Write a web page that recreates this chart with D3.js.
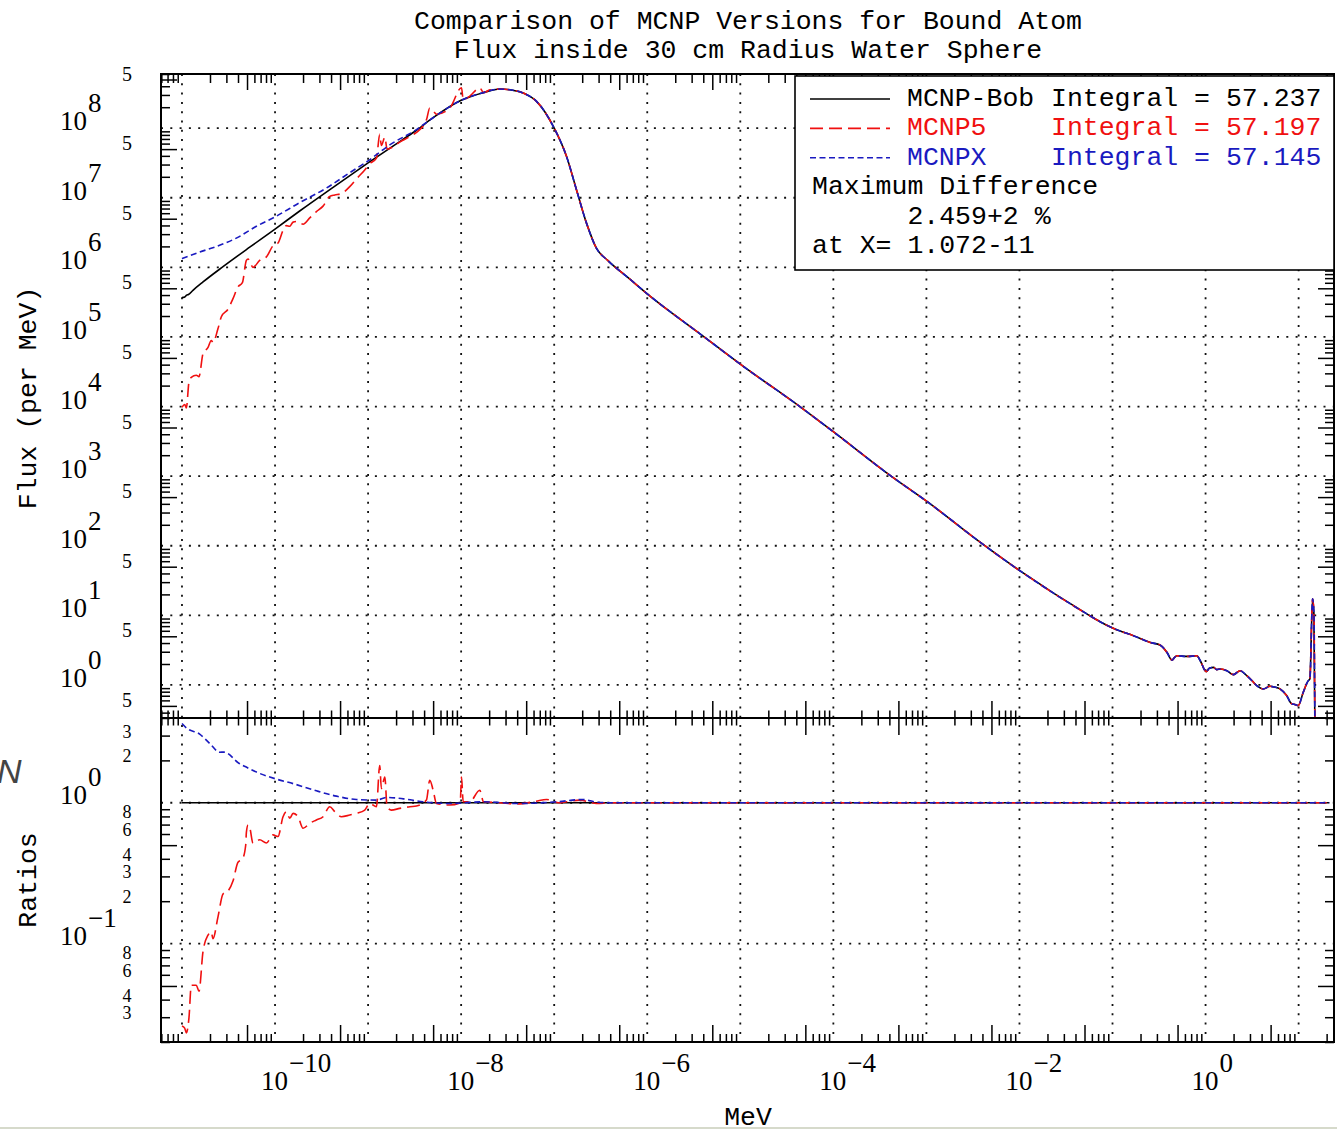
<!DOCTYPE html>
<html>
<head>
<meta charset="utf-8">
<title>Comparison of MCNP Versions for Bound Atom</title>
<script src="https://d3js.org/d3.v7.min.js"></script>
<style>
  body { margin: 0; background: #fff; }
  svg { display: block; }
  .mono { font-family: "Liberation Mono", "DejaVu Sans Mono", monospace; font-size: 26.5px; }
  .num { font-family: "Liberation Serif", "DejaVu Serif", serif; }
</style>
</head>
<body>
<script>

//Data, pairs are [log10(E in MeV), log10(value)]
var bobHead = [
    [-11.00, 5.566], [-10.97, 5.575], [-10.95, 5.60], [-10.93, 5.61], [-10.882, 5.67],
    [-10.774, 5.79], [-10.559, 6.01], [-10.272, 6.29], [-10.0, 6.55], [-9.735, 6.81],
    [-9.376, 7.15], [-9.0, 7.50], [-8.624, 7.84], [-8.48, 7.97], [-8.301, 8.15],
    [-8.0, 8.40], [-7.763, 8.51]
];

var blueHead = [
    [-11.00, 6.125], [-10.81, 6.22], [-10.63, 6.30], [-10.416, 6.42], [-10.2, 6.59],
    [-10.0, 6.725], [-9.735, 6.93], [-9.448, 7.14], [-9.197, 7.36], [-9.0, 7.53],
    [-8.767, 7.76], [-8.48, 7.98], [-8.301, 8.15], [-8.0, 8.40], [-7.763, 8.51]
];

var redHead = [
    [-11.00, 3.99], [-10.97, 4.03], [-10.953, 3.98], [-10.925, 4.35], [-10.9, 4.42],
    [-10.846, 4.45], [-10.817, 4.43], [-10.774, 4.76], [-10.72, 4.85], [-10.685, 4.95],
    [-10.667, 4.92], [-10.613, 5.12], [-10.577, 5.29], [-10.505, 5.40], [-10.452, 5.55],
    [-10.398, 5.72], [-10.351, 5.78], [-10.308, 6.10], [-10.29, 6.12], [-10.27, 6.08],
    [-10.237, 6.00], [-10.165, 6.10], [-10.093, 6.15], [-10.022, 6.31], [-9.968, 6.35],
    [-9.914, 6.53], [-9.878, 6.60], [-9.842, 6.59], [-9.806, 6.65], [-9.753, 6.66],
    [-9.699, 6.62], [-9.627, 6.71], [-9.556, 6.80], [-9.484, 6.88], [-9.412, 7.02],
    [-9.358, 7.04], [-9.287, 7.06], [-9.197, 7.16], [-9.125, 7.27], [-9.036, 7.40],
    [-8.982, 7.49], [-8.91, 7.57], [-8.875, 7.91], [-8.857, 7.75], [-8.82, 7.87],
    [-8.796, 7.70], [-8.75, 7.72], [-8.66, 7.80], [-8.55, 7.88], [-8.48, 7.94],
    [-8.373, 8.12], [-8.337, 8.29], [-8.301, 8.25], [-8.265, 8.20], [-8.122, 8.29],
    [-7.996, 8.58], [-7.978, 8.41], [-7.907, 8.46], [-7.8, 8.58], [-7.76, 8.51],
    [-7.69, 8.55]
];

//All three codes agree above the thermal peak
var commonTail = [
    [-7.584, 8.562], [-7.477, 8.552], [-7.333, 8.504], [-7.19, 8.384], [-7.0, 8.0],
    [-6.867, 7.592], [-6.76, 7.112], [-6.652, 6.632], [-6.545, 6.272], [-6.425, 6.10],
    [-6.186, 5.83], [-6.0, 5.62], [-5.396, 5.008], [-4.993, 4.602], [-4.367, 4.006],
    [-3.987, 3.624], [-3.383, 3.004], [-2.980, 2.622], [-2.398, 2.026], [-1.973, 1.620],
    [-1.280, 1.024], [-1.129, 0.905], [-0.986, 0.81], [-0.771, 0.705], [-0.593, 0.61],
    [-0.486, 0.571], [-0.414, 0.467], [-0.361, 0.357], [-0.33, 0.40], [-0.307, 0.419],
    [-0.2, 0.41], [-0.093, 0.419], [-0.057, 0.348], [0.007, 0.19], [0.04, 0.24],
    [0.086, 0.252], [0.12, 0.22], [0.157, 0.229], [0.229, 0.205], [0.3, 0.148],
    [0.371, 0.205], [0.443, 0.133], [0.50, 0.06], [0.55, -0.01], [0.621, -0.057],
    [0.693, -0.019], [0.74, -0.03], [0.8, -0.057], [0.871, -0.152], [0.925, -0.271],
    [0.96, -0.28], [0.996, -0.295], [1.05, -0.105], [1.104, 0.062], [1.121, 0.086],
    [1.15, 1.238], [1.164, 1.038], [1.175, -0.6]
];

//Ratios to MCNP-Bob, [log10(E), log10(ratio)]
var bobRatio = [[-11.0, 0], [1.33, 0]];

var redRatio = [
    [-11.0, -1.585], [-10.971, -1.60], [-10.953, -1.634], [-10.925, -1.528], [-10.9, -1.296],
    [-10.846, -1.296], [-10.817, -1.338], [-10.774, -1.056], [-10.72, -0.94], [-10.685, -0.917],
    [-10.667, -0.965], [-10.613, -0.81], [-10.559, -0.648], [-10.505, -0.627], [-10.452, -0.556],
    [-10.398, -0.423], [-10.351, -0.401], [-10.315, -0.30], [-10.308, -0.21], [-10.29, -0.157],
    [-10.27, -0.181], [-10.237, -0.286], [-10.165, -0.263], [-10.093, -0.286], [-10.022, -0.228],
    [-9.968, -0.239], [-9.914, -0.099], [-9.878, -0.063], [-9.842, -0.11], [-9.806, -0.075],
    [-9.753, -0.099], [-9.699, -0.181], [-9.627, -0.146], [-9.556, -0.122], [-9.484, -0.099],
    [-9.412, -0.028], [-9.358, -0.063], [-9.287, -0.099], [-9.197, -0.087], [-9.125, -0.075],
    [-9.036, -0.052], [-8.982, -0.005], [-8.91, -0.028], [-8.875, 0.265], [-8.857, 0.101],
    [-8.82, 0.183], [-8.796, -0.028], [-8.75, -0.052], [-8.66, -0.04], [-8.55, -0.028],
    [-8.48, -0.023], [-8.373, 0.019], [-8.337, 0.16], [-8.301, 0.089], [-8.265, -0.005],
    [-8.122, -0.016], [-8.01, 0.0], [-7.996, 0.183], [-7.978, 0.007], [-7.907, 0.007],
    [-7.8, 0.089], [-7.76, 0.007], [-7.584, 0.0], [-7.405, -0.009], [-7.2, 0.01],
    [-7.082, 0.023], [-6.95, 0.0], [-6.867, 0.007], [-6.724, 0.019], [-6.545, -0.005],
    [-6.4, 0], [1.33, 0]
];

var blueRatio = [
    [-11.0, 0.563], [-10.95, 0.53], [-10.81, 0.488], [-10.7, 0.42], [-10.595, 0.359],
    [-10.55, 0.36], [-10.38, 0.277], [-10.3, 0.25], [-10.2, 0.218], [-10.0, 0.171],
    [-9.806, 0.136], [-9.556, 0.085], [-9.34, 0.047], [-9.125, 0.023], [-8.91, 0.019],
    [-8.8, 0.038], [-8.62, 0.028], [-8.41, 0.007], [-8.12, -0.005], [-7.76, 0.007],
    [-7.4, -0.005], [-7.0, 0.005], [-6.69, 0.023], [-6.55, 0.005], [-6.4, 0], [1.33, 0]
];

//Tick labels
var xLabelExps = [-10, -8, -6, -4, -2, 0];
var fluxLabelExps = [0, 1, 2, 3, 4, 5, 6, 7, 8];
var fluxFiveLabels = [0.5, 5, 50, 5e2, 5e3, 5e4, 5e5, 5e6, 5e7, 5e8];
var ratioLabelExps = [0, -1];
var ratioMinorLabels = [3, 2, 0.8, 0.6, 0.4, 0.3, 0.2, 0.08, 0.06, 0.04, 0.03];
var ratioMinorText = ["3", "2", "8", "6", "4", "3", "2", "8", "6", "4", "3"];

var legendRows = [
    { name: "MCNP-Bob", value: "Integral = 57.237", color: "#000000", dash: null },
    { name: "MCNP5", value: "Integral = 57.197", color: "#f01010", dash: "13 6" },
    { name: "MCNPX", value: "Integral = 57.145", color: "#1a1ac0", dash: "6 3.5" }
];
var noteLines = ["Maximum Difference", "      2.459+2 %", "at X= 1.072-11"];


var W = 1337, H = 1129;
var pLeft = 161, pRight = 1334, pTop = 74, pMid = 718, pBottom = 1042;

//Scales
var x = d3.scaleLog().domain([5.95e-12, 24]).range([pLeft, pRight]);
var yFlux = d3.scaleLog().domain([0.335, 6e8]).range([pMid, pTop]);
var yRatio = d3.scaleLog().domain([0.02, 4]).range([pBottom, pMid]);

var p10 = function(v) { return Math.pow(10, v); };

var svg = d3.select("body").append("svg")
    .attr("width", W)
    .attr("height", H);

svg.append("rect").attr("width", W).attr("height", H).attr("fill", "#fff");

var defs = svg.append("defs");
defs.append("clipPath").attr("id", "clipTop").append("rect")
    .attr("x", pLeft).attr("y", pTop).attr("width", pRight - pLeft).attr("height", pMid - pTop);
defs.append("clipPath").attr("id", "clipBot").append("rect")
    .attr("x", pLeft).attr("y", pMid).attr("width", pRight - pLeft).attr("height", pBottom - pMid);


//minor ticks 2..9 in each decade, split into the long "5" and the rest
var minorTicks = function(lo, hi, five) {
    var out = [];
    for (var n = Math.floor(Math.log10(lo)) - 1; n <= Math.ceil(Math.log10(hi)); n++) {
        for (var k = 2; k <= 9; k++) {
            var v = k * Math.pow(10, n);
            if (v >= lo * 0.999 && v <= hi * 1.001 && ((k === 5) === five)) out.push(v);
        }
    }
    return out;
};

var decades = function(lo, hi) {
    var out = [];
    for (var n = Math.ceil(Math.log10(lo)); n <= Math.floor(Math.log10(hi)); n++) out.push(Math.pow(10, n));
    return out;
};


//Dotted grid
var grid = svg.append("g")
    .attr("stroke", "#111")
    .attr("stroke-width", 1.8)
    .attr("stroke-dasharray", "2 7.3");

grid.selectAll(".gx")
    .data(decades(x.domain()[0], x.domain()[1]))
    .enter().append("line")
        .attr("x1", function(d) { return x(d); })
        .attr("x2", function(d) { return x(d); })
        .attr("y1", pTop)
        .attr("y2", pBottom);

grid.selectAll(".gy")
    .data(decades(0.9, 1.1e8))
    .enter().append("line")
        .attr("x1", pLeft).attr("x2", pRight)
        .attr("y1", function(d) { return yFlux(d); })
        .attr("y2", function(d) { return yFlux(d); });

grid.selectAll(".gr")
    .data([0.1, 1])
    .enter().append("line")
        .attr("x1", pLeft).attr("x2", pRight)
        .attr("y1", function(d) { return yRatio(d); })
        .attr("y2", function(d) { return yRatio(d); });


//Tick marks through d3 axes
var tickAxis = function(axisFn, scale, vals, size, transform) {
    var g = svg.append("g")
        .attr("transform", transform)
        .call(axisFn(scale).tickValues(vals).tickSizeInner(size).tickSizeOuter(0).tickFormat(""));
    g.select(".domain").remove();
    g.selectAll("line").attr("stroke", "#000").attr("stroke-width", 1.5);
    return g;
};

var xShort = minorTicks(x.domain()[0], x.domain()[1], false);
var xLong = minorTicks(x.domain()[0], x.domain()[1], true);

tickAxis(d3.axisTop, x, xShort, -9, "translate(0," + pTop + ")");
tickAxis(d3.axisTop, x, xLong, -16, "translate(0," + pTop + ")");
tickAxis(d3.axisBottom, x, xShort, 7.5, "translate(0," + pMid + ")");
tickAxis(d3.axisTop, x, xShort, 7.5, "translate(0," + pMid + ")");
tickAxis(d3.axisBottom, x, xLong, 17, "translate(0," + pMid + ")");
tickAxis(d3.axisTop, x, xLong, 17, "translate(0," + pMid + ")");
tickAxis(d3.axisBottom, x, xShort, -8, "translate(0," + pBottom + ")");
tickAxis(d3.axisBottom, x, xLong, -17, "translate(0," + pBottom + ")");

var fShort = minorTicks(yFlux.domain()[0], yFlux.domain()[1], false);
var fLong = minorTicks(yFlux.domain()[0], yFlux.domain()[1], true);
tickAxis(d3.axisLeft, yFlux, fShort, -9, "translate(" + pLeft + ",0)");
tickAxis(d3.axisLeft, yFlux, fLong, -16, "translate(" + pLeft + ",0)");
tickAxis(d3.axisRight, yFlux, fShort, -9, "translate(" + pRight + ",0)");
tickAxis(d3.axisRight, yFlux, fLong, -16, "translate(" + pRight + ",0)");

var rShort = minorTicks(yRatio.domain()[0], yRatio.domain()[1], false);
var rLong = minorTicks(yRatio.domain()[0], yRatio.domain()[1], true);
tickAxis(d3.axisLeft, yRatio, rShort, -9, "translate(" + pLeft + ",0)");
tickAxis(d3.axisLeft, yRatio, rLong, -16, "translate(" + pLeft + ",0)");
tickAxis(d3.axisRight, yRatio, rShort, -9, "translate(" + pRight + ",0)");
tickAxis(d3.axisRight, yRatio, rLong, -16, "translate(" + pRight + ",0)");


//Curves
var fluxLine = d3.line()
    .x(function(d) { return x(p10(d[0])); })
    .y(function(d) { return yFlux(p10(d[1])); })
    .curve(d3.curveMonotoneX);

var ratioLine = d3.line()
    .x(function(d) { return x(p10(d[0])); })
    .y(function(d) { return yRatio(p10(d[1])); })
    .curve(d3.curveMonotoneX);

var series = [
    { flux: bobHead.concat(commonTail), ratio: bobRatio, row: legendRows[0] },
    { flux: redHead.concat(commonTail), ratio: redRatio, row: legendRows[1] },
    { flux: blueHead.concat(commonTail), ratio: blueRatio, row: legendRows[2] }
];

var topPlot = svg.append("g").attr("clip-path", "url(#clipTop)");
var botPlot = svg.append("g").attr("clip-path", "url(#clipBot)");

series.forEach(function(s) {
    topPlot.append("path")
        .attr("d", fluxLine(s.flux))
        .attr("fill", "none")
        .attr("stroke", s.row.color)
        .attr("stroke-width", 1.6)
        .attr("stroke-dasharray", s.row.dash);

    botPlot.append("path")
        .attr("d", ratioLine(s.ratio))
        .attr("fill", "none")
        .attr("stroke", s.row.color)
        .attr("stroke-width", 1.6)
        .attr("stroke-dasharray", s.row.dash);
});


//Frames
svg.append("rect")
    .attr("x", pLeft).attr("y", pTop).attr("width", pRight - pLeft).attr("height", pMid - pTop)
    .attr("fill", "none").attr("stroke", "#000").attr("stroke-width", 2);
svg.append("rect")
    .attr("x", pLeft).attr("y", pMid).attr("width", pRight - pLeft).attr("height", pBottom - pMid)
    .attr("fill", "none").attr("stroke", "#000").attr("stroke-width", 2);


//Tick labels
var minus = function(n) { return n < 0 ? "\u2212" + (-n) : String(n); };

var xl = svg.selectAll(".xlab")
    .data(xLabelExps)
    .enter().append("text")
        .attr("class", "num")
        .style("font-size", "27px")
        .attr("x", function(d) { return x(p10(d)) - 14; })
        .attr("y", 1090);
xl.append("tspan").text("10");
xl.append("tspan").attr("dx", 1).attr("dy", -18).text(function(d) { return minus(d); });

var fl = svg.selectAll(".flab")
    .data(fluxLabelExps)
    .enter().append("text")
        .attr("class", "num")
        .style("font-size", "27px")
        .attr("x", 60)
        .attr("y", function(d) { return yFlux(p10(d)) + 2; });
fl.append("tspan").text("10");
fl.append("tspan").attr("dx", 1).attr("dy", -18).text(function(d) { return minus(d); });

svg.selectAll(".f5")
    .data(fluxFiveLabels)
    .enter().append("text")
        .attr("class", "num")
        .style("font-size", "20px")
        .attr("text-anchor", "middle")
        .attr("x", 127)
        .attr("y", function(d) { return yFlux(d) + 1; })
        .text("5");

var rl = svg.selectAll(".rlab")
    .data(ratioLabelExps)
    .enter().append("text")
        .attr("class", "num")
        .style("font-size", "27px")
        .attr("x", 60)
        .attr("y", function(d) { return yRatio(p10(d)) + 1; });
rl.append("tspan").text("10");
rl.append("tspan").attr("dx", 1).attr("dy", -18).text(function(d) { return minus(d); });

svg.selectAll(".rminor")
    .data(ratioMinorLabels)
    .enter().append("text")
        .attr("class", "num")
        .style("font-size", "18px")
        .attr("text-anchor", "middle")
        .attr("x", 127)
        .attr("y", function(d) { return yRatio(d) + 2; })
        .text(function(d, i) { return ratioMinorText[i]; });


//Titles
svg.append("text").attr("class", "mono").attr("text-anchor", "middle")
    .attr("x", 748).attr("y", 29).text("Comparison of MCNP Versions for Bound Atom");
svg.append("text").attr("class", "mono").attr("text-anchor", "middle")
    .attr("x", 748).attr("y", 58).text("Flux inside 30 cm Radius Water Sphere");
svg.append("text").attr("class", "mono").attr("text-anchor", "middle")
    .attr("x", 748).attr("y", 1125).text("MeV");
svg.append("text").attr("class", "mono").attr("text-anchor", "middle")
    .attr("transform", "translate(36,398) rotate(-90)").text("Flux (per MeV)");
svg.append("text").attr("class", "mono").attr("text-anchor", "middle")
    .attr("transform", "translate(36,880) rotate(-90)").text("Ratios");


//Legend box
var lg = svg.append("g");
lg.append("rect")
    .attr("x", 795).attr("y", 76).attr("width", pRight - 795).attr("height", 194)
    .attr("fill", "#fff").attr("stroke", "#000").attr("stroke-width", 1.6);

var rowY = function(i) { return 106 + i * 29.4; };

legendRows.forEach(function(r, i) {
    lg.append("line")
        .attr("x1", 810).attr("x2", 890)
        .attr("y1", rowY(i) - 7).attr("y2", rowY(i) - 7)
        .attr("stroke", r.color).attr("stroke-width", 1.6)
        .attr("stroke-dasharray", r.dash);
    lg.append("text").attr("class", "mono").attr("fill", r.color)
        .attr("x", 907).attr("y", rowY(i)).text(r.name);
    lg.append("text").attr("class", "mono").attr("fill", r.color)
        .attr("x", 1051).attr("y", rowY(i)).text(r.value);
});

noteLines.forEach(function(t, i) {
    lg.append("text").attr("class", "mono")
        .attr("x", 812).attr("y", rowY(i + 3))
        .style("white-space", "pre")
        .text(t);
});


//Bits of the surrounding page caught in the picture
svg.append("text")
    .attr("x", -3).attr("y", 783)
    .style("font-family", "Liberation Sans, sans-serif")
    .style("font-style", "italic")
    .style("font-size", "34px")
    .attr("fill", "#444")
    .text("N");
svg.append("line")
    .attr("x1", 0).attr("x2", W).attr("y1", 1128).attr("y2", 1128)
    .attr("stroke", "#d6dacb").attr("stroke-width", 2);

</script>
</body>
</html>
